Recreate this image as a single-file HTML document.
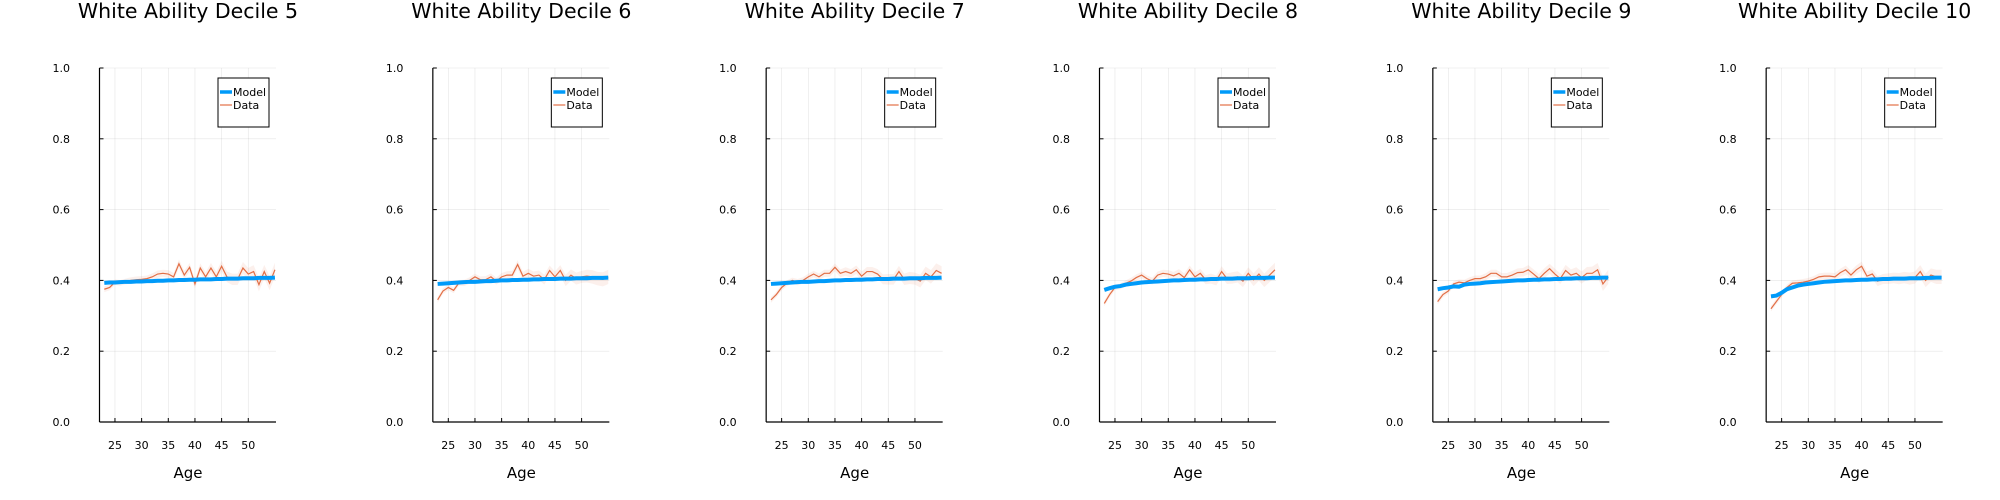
<!DOCTYPE html>
<html><head><meta charset="utf-8">
<style>
html,body{margin:0;padding:0;background:#fff;}
svg{display:block;font-family:"DejaVu Sans","Liberation Sans",sans-serif;}
</style></head>
<body>
<svg id="chart" width="2000" height="500" viewBox="0 0 2000 500" xmlns="http://www.w3.org/2000/svg"></svg>
<script>
const titles = ["White Ability Decile 5","White Ability Decile 6","White Ability Decile 7","White Ability Decile 8","White Ability Decile 9","White Ability Decile 10"];
const ages = [23,24,25,26,27,28,29,30,31,32,33,34,35,36,37,38,39,40,41,42,43,44,45,46,47,48,49,50,51,52,53,54,55];
const xTicks = [25,30,35,40,45,50];
const yTicks = [0,0.2,0.4,0.6,0.8,1.0];
const yTickLabels = ["0.0","0.2","0.4","0.6","0.8","1.0"];
const ciHalf = [0.008,0.008,0.008,0.008,0.008,0.009,0.009,0.009,0.009,0.01,0.01,0.01,0.011,0.011,0.012,0.012,0.012,0.013,0.013,0.013,0.014,0.014,0.015,0.015,0.016,0.016,0.017,0.017,0.018,0.019,0.019,0.02,0.02];
const data5 = [0.375,0.38,0.395,0.393,0.397,0.40,0.402,0.403,0.405,0.41,0.418,0.42,0.418,0.41,0.447,0.415,0.437,0.39,0.435,0.41,0.435,0.41,0.44,0.41,0.403,0.403,0.435,0.418,0.425,0.388,0.425,0.392,0.43];
const data6 = [0.345,0.37,0.38,0.372,0.393,0.393,0.40,0.41,0.402,0.402,0.41,0.398,0.41,0.415,0.415,0.445,0.412,0.42,0.412,0.415,0.402,0.428,0.41,0.428,0.40,0.415,0.405,0.41,0.412,0.41,0.405,0.403,0.41];
const data7 = [0.345,0.36,0.38,0.392,0.40,0.395,0.40,0.41,0.418,0.41,0.42,0.42,0.437,0.42,0.425,0.42,0.43,0.412,0.425,0.425,0.418,0.403,0.403,0.403,0.425,0.403,0.407,0.405,0.398,0.42,0.41,0.428,0.42];
const data8 = [0.335,0.36,0.38,0.383,0.392,0.398,0.408,0.415,0.405,0.398,0.415,0.42,0.418,0.413,0.42,0.408,0.43,0.41,0.42,0.402,0.405,0.40,0.425,0.405,0.407,0.41,0.398,0.42,0.402,0.418,0.40,0.415,0.43];
const data9 = [0.34,0.36,0.37,0.39,0.395,0.393,0.40,0.405,0.405,0.41,0.42,0.42,0.41,0.41,0.415,0.422,0.423,0.43,0.418,0.405,0.42,0.433,0.418,0.405,0.428,0.415,0.42,0.408,0.42,0.42,0.43,0.39,0.41];
const data10 = [0.32,0.34,0.36,0.38,0.392,0.393,0.395,0.398,0.403,0.41,0.412,0.412,0.41,0.422,0.43,0.415,0.43,0.44,0.412,0.418,0.398,0.404,0.405,0.407,0.405,0.408,0.405,0.408,0.425,0.40,0.415,0.41,0.41];
const model5 = [0.393,0.394,0.394,0.395,0.396,0.396,0.397,0.397,0.398,0.398,0.399,0.399,0.40,0.40,0.401,0.401,0.402,0.402,0.403,0.403,0.403,0.404,0.404,0.405,0.405,0.405,0.406,0.406,0.406,0.407,0.407,0.407,0.408];
const model6 = [0.39,0.391,0.392,0.393,0.394,0.395,0.396,0.396,0.397,0.398,0.398,0.399,0.40,0.40,0.401,0.401,0.402,0.402,0.403,0.403,0.404,0.404,0.404,0.405,0.405,0.405,0.406,0.406,0.406,0.407,0.407,0.407,0.408];
const model7 = [0.39,0.391,0.392,0.393,0.394,0.395,0.396,0.396,0.397,0.398,0.398,0.399,0.40,0.40,0.401,0.401,0.402,0.402,0.403,0.403,0.404,0.404,0.404,0.405,0.405,0.405,0.406,0.406,0.406,0.407,0.407,0.407,0.408];
const model8 = [0.373,0.378,0.382,0.384,0.388,0.39,0.392,0.394,0.395,0.396,0.397,0.398,0.399,0.40,0.40,0.401,0.402,0.402,0.403,0.403,0.404,0.404,0.405,0.405,0.405,0.406,0.406,0.406,0.407,0.407,0.407,0.408,0.408];
const model9 = [0.375,0.378,0.38,0.383,0.382,0.388,0.39,0.391,0.392,0.394,0.395,0.396,0.397,0.398,0.399,0.40,0.40,0.401,0.402,0.402,0.403,0.403,0.404,0.404,0.405,0.405,0.406,0.406,0.406,0.407,0.407,0.408,0.408];
const model10 = [0.355,0.357,0.365,0.375,0.38,0.385,0.388,0.39,0.392,0.394,0.396,0.397,0.398,0.399,0.40,0.40,0.401,0.402,0.402,0.403,0.403,0.404,0.404,0.405,0.405,0.405,0.406,0.406,0.406,0.407,0.407,0.408,0.408];
const dataSeries = [data5,data6,data7,data8,data9,data10];
const modelSeries = [model5,model6,model7,model8,model9,model10];

const NS = "http://www.w3.org/2000/svg";
const svg = document.getElementById("chart");
function mk(tag, attrs, parent){ const e=document.createElementNS(NS,tag); for(const k in attrs) e.setAttribute(k,attrs[k]); (parent||svg).appendChild(e); return e; }

const panelW = 2000/6;
const axL = 99.5, axR = 276, yTop = 68, yBot = 422;
const xMin = 22.1, xMax = 55.2;

for (let p=0;p<6;p++){
  const ox = p*panelW;
  const g = mk("g",{});
  
  
  const X = a => ox + axL + (a - xMin)/(xMax - xMin)*(axR-axL);
  const Y = v => yBot - v*(yBot-yTop);

  const t = mk("text",{x: ox+188, y: 18, "text-anchor":"middle","font-size":"20.5",fill:"#000"}, g);
  t.textContent = titles[p];
  
  

  // grid
  xTicks.forEach(v=>{
    const l = mk("line",{x1:X(v),x2:X(v),y1:yTop,y2:yBot,stroke:"#000","stroke-opacity":"0.1","stroke-width":"0.6"},g);
    
    
  });
  yTicks.forEach(v=>{
    const l = mk("line",{x1:ox+axL,x2:ox+axR,y1:Y(v),y2:Y(v),stroke:"#000","stroke-opacity":"0.1","stroke-width":"0.6"},g);
    
    
  });

  // ribbon
  const d = dataSeries[p];
  let up = ages.map((a,i)=>X(a)+","+Y(d[i]+ciHalf[i])).join(" ");
  let lo = ages.slice().reverse().map((a,j)=>{const i=ages.length-1-j; return X(a)+","+Y(d[i]-ciHalf[i]);}).join(" ");
  const rib = mk("polygon",{points: up+" "+lo, fill:"#e26f46","fill-opacity":"0.1",stroke:"none"},g);
  
  

  const dl = mk("polyline",{points: ages.map((a,i)=>X(a)+","+Y(d[i])).join(" "), fill:"none", stroke:"#e26f46","stroke-width":"1.2"},g);
  
  

  const m = modelSeries[p];
  const ml = mk("polyline",{points: ages.map((a,i)=>X(a)+","+Y(m[i])).join(" "), fill:"none", stroke:"#009af9","stroke-width":"4"},g);
  
  

  // axes
  const ya = mk("line",{x1:ox+axL,x2:ox+axL,y1:yTop,y2:yBot,stroke:"#000","stroke-width":"1.2"},g);
  
  
  const xa = mk("line",{x1:ox+axL,x2:ox+axR,y1:yBot,y2:yBot,stroke:"#000","stroke-width":"1.2"},g);
  
  

  xTicks.forEach(v=>{
    const tk = mk("line",{x1:X(v),x2:X(v),y1:yBot,y2:yBot-4,stroke:"#000","stroke-width":"1"},g);
    
    
    const tl = mk("text",{x:X(v),y:449,"text-anchor":"middle","font-size":"11",fill:"#000"},g);
    tl.textContent = v;
    
    
  });
  yTicks.forEach((v,i)=>{
    const tk = mk("line",{x1:ox+axL,x2:ox+axL+4,y1:Y(v),y2:Y(v),stroke:"#000","stroke-width":"1"},g);
    
    
    const tl = mk("text",{x:ox+70,y:Y(v)+4,"text-anchor":"end","font-size":"11",fill:"#000"},g);
    tl.textContent = yTickLabels[i];
    
    
  });

  const xl = mk("text",{x: ox+188, y: 478, "text-anchor":"middle","font-size":"15",fill:"#000"},g);
  xl.textContent = "Age";
  
  

  // legend
  const lg = mk("g",{},g);
  
  
  mk("rect",{x:ox+218,y:78,width:51,height:49,fill:"#fff",stroke:"#000","stroke-width":"1"},lg);
  const l1 = mk("line",{x1:ox+220,x2:ox+232,y1:92,y2:92,stroke:"#009af9","stroke-width":"3.5"},lg);
  
  
  const t1 = mk("text",{x:ox+233,y:96,"font-size":"11",fill:"#000"},lg);
  t1.textContent = "Model";
  
  
  const l2 = mk("line",{x1:ox+220,x2:ox+232,y1:105,y2:105,stroke:"#e26f46","stroke-width":"1.2"},lg);
  
  
  const t2 = mk("text",{x:ox+233,y:109,"font-size":"11",fill:"#000"},lg);
  t2.textContent = "Data";
  
  
}
</script>
</body></html>
